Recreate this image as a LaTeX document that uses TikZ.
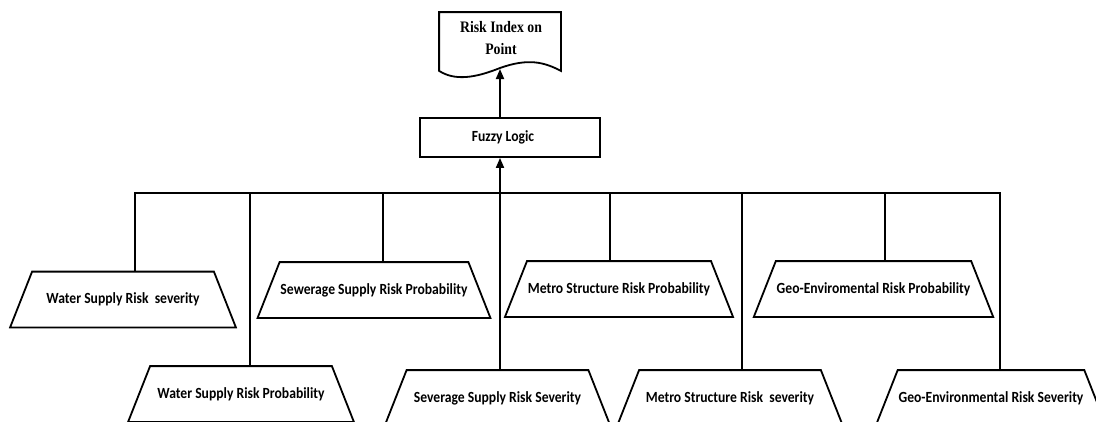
\documentclass[tikz,border=0pt]{standalone}
\usepackage{fontspec}
\usetikzlibrary{arrows.meta}
\newfontfamily\boxfont[FakeStretch=0.88]{Carlito}
\newfontfamily\docfont[FakeStretch=0.86]{Liberation Serif}
% outline a risk factor as a trapezoid widening downwards around node #1
\newcommand\trapout[1]{%
  \draw[line join=miter] ([xshift=-22pt]#1.south west) -- (#1.north west)
    -- (#1.north east) -- ([xshift=22pt]#1.south east) -- cycle;}
\begin{document}
\begin{tikzpicture}[x=1pt,y=-1pt,
  line width=1.8pt,
  lbl/.style={font=\boxfont\bfseries\fontsize{15.5}{18}\selectfont},
  riskbox/.style={lbl, rectangle, minimum width=180pt, minimum height=54pt, inner sep=0pt},
  procbox/.style={lbl, draw, rectangle, minimum width=180pt, minimum height=39pt, inner sep=0pt},
  arr/.style={-{Triangle[length=10pt,width=8pt]}},
  wire/.style={line cap=rect}
]
\clip (0,0) rectangle (1096,421);
\useasboundingbox (0,0) rectangle (1096,421);

% output document
\node[font=\docfont\bfseries\fontsize{16}{22}\selectfont, align=center,
      minimum width=120pt, minimum height=57pt, inner sep=0pt] (doc) at (500,41.5) {};
\node[font=\docfont\bfseries\fontsize{16}{22}\selectfont, align=center, inner sep=0pt]
      (doctext) at (501,38.5) {Risk Index on\\Point};
\draw[line join=miter] (doc.south west) -- (doc.north west) -- (doc.north east) -- (doc.south east)
  .. controls (544,62) and (528,58) .. (500,68)
  .. controls (475,78) and (455,81) .. (doc.south west) -- cycle;
\coordinate (docin) at (500,69);

% fuzzy inference block
\node[procbox] (fuzzy) at (510,137.5) {};
\node[lbl, inner sep=0pt] (fuzzytext) at (503,137.5) {Fuzzy Logic};

% input risk factors
\node[riskbox] (wsS) at (123,299.5) {Water Supply Risk\ \ severity};
\node[riskbox] (wsP) at (241,394)   {Water Supply Risk Probability};
\node[riskbox] (ssP) at (374,290)   {Sewerage Supply Risk Probability};
\node[riskbox] (svS) at (497.5,398) {Severage Supply Risk Severity};
\node[riskbox] (msP) at (619,289)   {Metro Structure Risk Probability};
\node[riskbox] (msS) at (730,398)   {Metro Structure Risk\ \ severity};
\node[riskbox] (geP) at (873.5,289) {Geo-Enviromental Risk Probability};
\node[riskbox] (geS) at (991,398)   {Geo-Environmental Risk Severity};
\foreach \n in {wsS,wsP,ssP,svS,msP,msS,geP,geS} {\trapout{\n}}

% collecting bus
\coordinate (b1) at (135,193);
\coordinate (b2) at (250,193);
\coordinate (b3) at (383,193);
\coordinate (b4) at (500,193);
\coordinate (b5) at (610,193);
\coordinate (b6) at (742,193);
\coordinate (b7) at (885,193);
\coordinate (b8) at (1000,193);

\draw[wire] (b1) -- (b8);
\draw (b1) -- (wsS.north -| b1);
\draw (b2) -- (wsP.north -| b2);
\draw (b3) -- (ssP.north -| b3);
\draw (b4) -- (svS.north -| b4);
\draw (b5) -- (msP.north -| b5);
\draw (b6) -- (msS.north -| b6);
\draw (b7) -- (geP.north -| b7);
\draw (b8) -- (geS.north -| b8);

\draw[arr] (b4) -- (fuzzy.south -| b4);
\draw[arr] (fuzzy.north -| docin) -- (docin);
\end{tikzpicture}
\end{document}
